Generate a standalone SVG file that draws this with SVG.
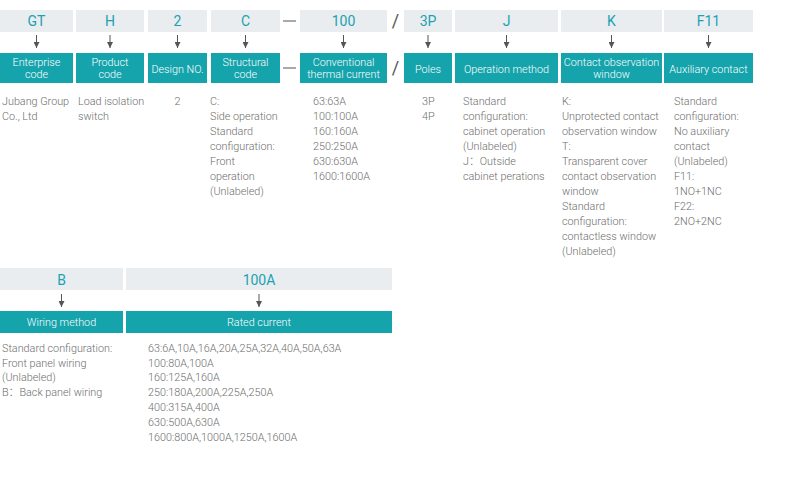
<svg xmlns="http://www.w3.org/2000/svg" width="812" height="486" viewBox="0 0 812 486">
<style>
.code{fill:#E9EDEF}
.codet{font-family:Roboto,"Liberation Sans","Noto Sans CJK SC",sans-serif;font-size:14px;fill:#1AA2B2;text-anchor:middle}
.lab{fill:#15A3AC}
.labt{font-family:Roboto,"Liberation Sans","Noto Sans CJK SC",sans-serif;font-weight:300;font-size:10.8px;fill:#FFFFFF;text-anchor:middle}
.body{font-family:Roboto,"Liberation Sans","Noto Sans CJK SC",sans-serif;font-weight:300;font-size:10.8px;fill:#6E6E6E}
.sep{font-family:Roboto,"Liberation Sans",sans-serif;fill:#555;text-anchor:middle}
.arr{stroke:#555;stroke-width:1;fill:none}
</style>
<defs>
<marker id="ah" viewBox="0 0 6 6" refX="6" refY="3" markerWidth="6" markerHeight="6" orient="auto" markerUnits="userSpaceOnUse">
<path d="M0,0 L6,3 L0,6 Z" fill="#555"/>
</marker>
</defs>
<rect width="812" height="486" fill="#FFFFFF"/>

<g id="node-GT">
<rect class="code" x="0" y="10" width="73" height="22"/><text class="codet" x="36.5" y="26">GT</text>
<rect class="lab" x="0" y="53" width="73" height="30"/><text class="labt" x="36.5" y="66">Enterprise</text><text class="labt" x="36.5" y="78">code</text>
<text class="body" x="2" y="105">Jubang Group</text><text class="body" x="2" y="120">Co., Ltd</text>
</g>
<g id="node-H">
<rect class="code" x="76" y="10" width="68" height="22"/><text class="codet" x="110" y="26">H</text>
<rect class="lab" x="76" y="53" width="68" height="30"/><text class="labt" x="110" y="66">Product</text><text class="labt" x="110" y="78">code</text>
<text class="body" x="78" y="105">Load isolation</text><text class="body" x="78" y="120">switch</text>
</g>
<g id="node-2">
<rect class="code" x="148" y="10" width="59" height="22"/><text class="codet" x="177.5" y="26">2</text>
<rect class="lab" x="148" y="53" width="59" height="30"/><text class="labt" x="177.5" y="72.5">Design NO.</text>
<text class="body" x="177.5" y="105" text-anchor="middle">2</text>
</g>
<g id="node-C">
<rect class="code" x="211" y="10" width="69" height="22"/><text class="codet" x="245.5" y="26">C</text>
<rect class="lab" x="211" y="53" width="69" height="30"/><text class="labt" x="245.5" y="66">Structural</text><text class="labt" x="245.5" y="78">code</text>
<text class="body" x="210" y="105">C:</text><text class="body" x="210" y="120">Side operation</text><text class="body" x="210" y="135">Standard</text><text class="body" x="210" y="150">configuration:</text><text class="body" x="210" y="165">Front</text><text class="body" x="210" y="180">operation</text><text class="body" x="210" y="195">(Unlabeled)</text>
</g>
<g id="node-100">
<rect class="code" x="300" y="10" width="87" height="22"/><text class="codet" x="343.5" y="26">100</text>
<rect class="lab" x="300" y="53" width="87" height="30"/><text class="labt" x="343.5" y="66">Conventional</text><text class="labt" x="343.5" y="78">thermal current</text>
<text class="body" x="313" y="105">63:63A</text><text class="body" x="313" y="120">100:100A</text><text class="body" x="313" y="135">160:160A</text><text class="body" x="313" y="150">250:250A</text><text class="body" x="313" y="165">630:630A</text><text class="body" x="313" y="180">1600:1600A</text>
</g>
<g id="node-3P">
<rect class="code" x="404" y="10" width="48" height="22"/><text class="codet" x="428" y="26">3P</text>
<rect class="lab" x="404" y="53" width="48" height="30"/><text class="labt" x="428" y="72.5">Poles</text>
<text class="body" x="422" y="105">3P</text><text class="body" x="422" y="120">4P</text>
</g>
<g id="node-J">
<rect class="code" x="455" y="10" width="103" height="22"/><text class="codet" x="506.5" y="26">J</text>
<rect class="lab" x="455" y="53" width="103" height="30"/><text class="labt" x="506.5" y="72.5">Operation method</text>
<text class="body" x="463" y="105">Standard</text><text class="body" x="463" y="120">configuration:</text><text class="body" x="463" y="135">cabinet operation</text><text class="body" x="463" y="150">(Unlabeled)</text><text class="body" x="463" y="165">J：Outside</text><text class="body" x="463" y="180">cabinet perations</text>
</g>
<g id="node-K">
<rect class="code" x="561" y="10" width="101" height="22"/><text class="codet" x="611.5" y="26">K</text>
<rect class="lab" x="561" y="53" width="101" height="30"/><text class="labt" x="611.5" y="66">Contact observation</text><text class="labt" x="611.5" y="78">window</text>
<text class="body" x="562" y="105">K:</text><text class="body" x="562" y="120">Unprotected contact</text><text class="body" x="562" y="135">observation window</text><text class="body" x="562" y="150">T:</text><text class="body" x="562" y="165">Transparent cover</text><text class="body" x="562" y="180">contact observation</text><text class="body" x="562" y="195">window</text><text class="body" x="562" y="210">Standard</text><text class="body" x="562" y="225">configuration:</text><text class="body" x="562" y="240">contactless window</text><text class="body" x="562" y="255">(Unlabeled)</text>
</g>
<g id="node-F11">
<rect class="code" x="664" y="10" width="89" height="22"/><text class="codet" x="708.5" y="26">F11</text>
<rect class="lab" x="664" y="53" width="89" height="30"/><text class="labt" x="708.5" y="72.5">Auxiliary contact</text>
<text class="body" x="674" y="105">Standard</text><text class="body" x="674" y="120">configuration:</text><text class="body" x="674" y="135">No auxiliary</text><text class="body" x="674" y="150">contact</text><text class="body" x="674" y="165">(Unlabeled)</text><text class="body" x="674" y="180">F11:</text><text class="body" x="674" y="195">1NO+1NC</text><text class="body" x="674" y="210">F22:</text><text class="body" x="674" y="225">2NO+2NC</text>
</g>
<g id="node-B">
<rect class="code" x="0" y="268" width="123" height="22"/><text class="codet" x="61.5" y="285">B</text>
<rect class="lab" x="0" y="311" width="123" height="22"/><text class="labt" x="61.5" y="326">Wiring method</text>
<text class="body" x="2" y="352">Standard configuration:</text><text class="body" x="2" y="367">Front panel wiring</text><text class="body" x="2" y="381">(Unlabeled)</text><text class="body" x="2" y="396">B：Back panel wiring</text>
</g>
<g id="node-100A">
<rect class="code" x="126" y="268" width="266" height="22"/><text class="codet" x="259" y="285">100A</text>
<rect class="lab" x="126" y="311" width="266" height="22"/><text class="labt" x="259" y="326">Rated current</text>
<text class="body" x="148" y="352">63:6A,10A,16A,20A,25A,32A,40A,50A,63A</text><text class="body" x="148" y="367">100:80A,100A</text><text class="body" x="148" y="381">160:125A,160A</text><text class="body" x="148" y="396">250:180A,200A,225A,250A</text><text class="body" x="148" y="411">400:315A,400A</text><text class="body" x="148" y="426">630:500A,630A</text><text class="body" x="148" y="441">1600:800A,1000A,1250A,1600A</text>
</g>

<g id="separators">
<line x1="283" y1="21" x2="296" y2="21" stroke="#555" stroke-width="1"/>
<line x1="283" y1="68" x2="296" y2="68" stroke="#555" stroke-width="1"/>
<text class="sep" x="395.5" y="27" font-size="18">/</text>
<text class="sep" x="395.5" y="74" font-size="18">/</text>
</g>

<g id="connectors" class="arr">
<line x1="36.5" y1="35" x2="36.5" y2="48" marker-end="url(#ah)"/>
<line x1="110" y1="35" x2="110" y2="48" marker-end="url(#ah)"/>
<line x1="177.5" y1="35" x2="177.5" y2="48" marker-end="url(#ah)"/>
<line x1="245.5" y1="35" x2="245.5" y2="48" marker-end="url(#ah)"/>
<line x1="343.5" y1="35" x2="343.5" y2="48" marker-end="url(#ah)"/>
<line x1="428" y1="35" x2="428" y2="48" marker-end="url(#ah)"/>
<line x1="506.5" y1="35" x2="506.5" y2="48" marker-end="url(#ah)"/>
<line x1="611.5" y1="35" x2="611.5" y2="48" marker-end="url(#ah)"/>
<line x1="708.5" y1="35" x2="708.5" y2="48" marker-end="url(#ah)"/>
<line x1="61.5" y1="294" x2="61.5" y2="307" marker-end="url(#ah)"/>
<line x1="259" y1="294" x2="259" y2="307" marker-end="url(#ah)"/>
</g>
</svg>
